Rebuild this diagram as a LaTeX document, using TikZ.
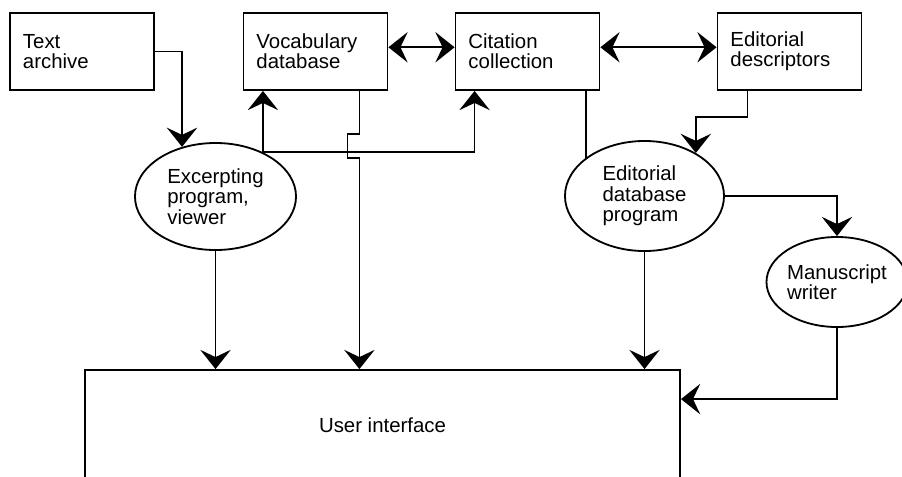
\documentclass[tikz,border=0pt]{standalone}
\usepackage{fontspec}
\setmainfont{Liberation Sans}
\usetikzlibrary{positioning,arrows.meta,calc,shapes.geometric}
\begin{document}
\begin{tikzpicture}[x=0.025cm, y=-0.025cm, line width=1.3pt,
  every node/.style={font=\fontsize{14.5}{14.5}\selectfont},
  store/.style={draw, rectangle, minimum width=3.6cm, minimum height=1.925cm, text width=2.95cm, inner xsep=0.325cm, align=left},
  proc/.style={draw, ellipse, inner sep=0pt, align=left},
  arr/.style={-{Stealth[length=4.8mm, width=7.6mm, inset=1.8mm]}},
  darr/.style={{Stealth[length=4.8mm, width=7.6mm, inset=1.8mm]}-{Stealth[length=4.8mm, width=7.6mm, inset=1.8mm]}}]
\useasboundingbox (0,0) rectangle (902,476);
\clip (0,0) rectangle (902,476);
\node[store] (ta)  at (82,51.5)    {Text\\archive};
\node[store] (voc) at (315.5,51.5) {Vocabulary\\database};
\node[store] (cit) at (527.5,51.5) {Citation\\collection};
\node[store] (edt) at (789.5,51.5) {Editorial\\descriptors};
\node[proc, minimum width=4.025cm, minimum height=2.675cm] (ex)  at (215.5,196.5) {Excerpting\\program,\\viewer};
\node[proc, minimum width=3.975cm, minimum height=2.75cm]  (edb) at (644.5,196)   {Editorial\\database\\program};
\node[proc, minimum width=3.2cm, minimum height=2.25cm]    (ms)  at (837,282)     {Manuscript\\writer};
\node[draw, minimum width=14.875cm, minimum height=2.75cm] (ui)  at (382.5,425)   {User interface};
\coordinate (vd) at ($(voc.south east)+(-29,0)$);
\draw[arr] (ta.east) -| (ex.124);
\draw[arr] (ex.43) -- (ex.43 |- voc.south);
\draw[arr] (ex.43) -| ($(cit.south west)+(20,0)$);
\draw[arr] (vd) -- ++(0,43) -- ++(-12,0) -- ++(0,24) -- ++(12,0) -- (vd |- ui.north);
\draw (edb.147 |- cit.south) -- (edb.147);
\draw[arr] ($(edt.south west)+(31,0)$) -- ++(0,26) -| (edb.40);
\draw[arr] (edb.east) -| (ms.north);
\draw[arr] (ms.south) |- ($(ui.north east)+(0,30)$);
\draw[arr] (ex.south) -- (ex.south |- ui.north);
\draw[arr] (edb.south) -- (edb.south |- ui.north);
\draw[darr] ([yshift=3pt]voc.east) -- ([yshift=3pt]cit.west);
\draw[darr] ([yshift=3pt]cit.east) -- ([yshift=3pt]edt.west);
\end{tikzpicture}
\end{document}
